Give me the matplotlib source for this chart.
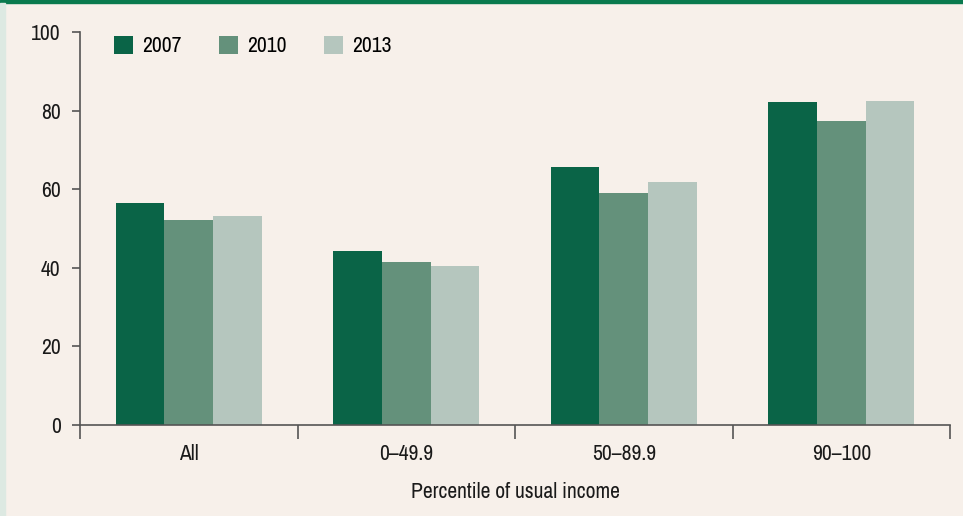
import numpy as np
import matplotlib.pyplot as plt
from matplotlib.patches import Patch, Rectangle

groups = ["All", "0\u201349.9", "50\u201389.9", "90\u2013100"]
years = ["2007", "2010", "2013"]
v2007 = [56.5, 44.3, 65.6, 82.2]
v2010 = [52.2, 41.6, 59.0, 77.4]
v2013 = [53.2, 40.5, 61.8, 82.4]
yticks = [0, 20, 40, 60, 80, 100]

colors = ["#0a6447", "#64917b", "#b5c6be"]
bg = "#f7f0ea"
axcol = "#555555"

plt.rcParams['font.family'] = ['Archivo Narrow', 'Roboto Condensed', 'DejaVu Sans']
plt.rcParams['font.size'] = 15.5

fig = plt.figure(figsize=(9.63, 5.16), dpi=100, facecolor=bg)
ax = fig.add_axes([80/963, 91/516, 870/963, 393/516])
ax.set_facecolor(bg)

# decorations: green line on top, pale strip on the left
fig.patches.append(Rectangle((0, 1 - 3/516), 1, 3/516, transform=fig.transFigure,
                             color="#0a7a4e", zorder=0))
fig.patches.append(Rectangle((0, 0), 5/963, 1 - 3/516, transform=fig.transFigure,
                             color="#dde9e2", zorder=0))

x = np.arange(len(groups))
w = 0.224
for i, (vals, c) in enumerate(zip([v2007, v2010, v2013], colors)):
    ax.bar(x + (i - 1) * w, vals, width=w, color=c, linewidth=0, zorder=2)

ax.set_xlim(-0.5, len(groups) - 0.5)
ax.set_ylim(0, 100)
ax.set_yticks(yticks)

for s in ["top", "right"]:
    ax.spines[s].set_visible(False)
for s in ["left", "bottom"]:
    ax.spines[s].set_color(axcol)
    ax.spines[s].set_linewidth(1.2)
    ax.spines[s].set_zorder(3)

ax.set_xticks(x)
ax.set_xticklabels(groups)
ax.set_xticks(np.arange(-0.5, len(groups)), minor=True)
ax.tick_params(axis="x", which="major", length=0, pad=14, colors="#1a1a1a")
ax.tick_params(axis="x", which="minor", length=10, width=1.2, color=axcol, direction="out")
ax.tick_params(axis="y", length=6, width=1.2, color=axcol, pad=8, labelcolor="#1a1a1a")

ax.set_xlabel("Percentile of usual income", labelpad=13, color="#1a1a1a")

handles = [Patch(facecolor=c, edgecolor="none", label=y) for c, y in zip(colors, years)]
ax.legend(handles=handles, ncol=3, loc="upper left", bbox_to_anchor=(0.039, 0.99),
          frameon=False, handlelength=0.88, handleheight=0.88, handletextpad=0.42,
          columnspacing=1.75, borderaxespad=0, borderpad=0)

fig.savefig("out.png", dpi=100, facecolor=bg)
